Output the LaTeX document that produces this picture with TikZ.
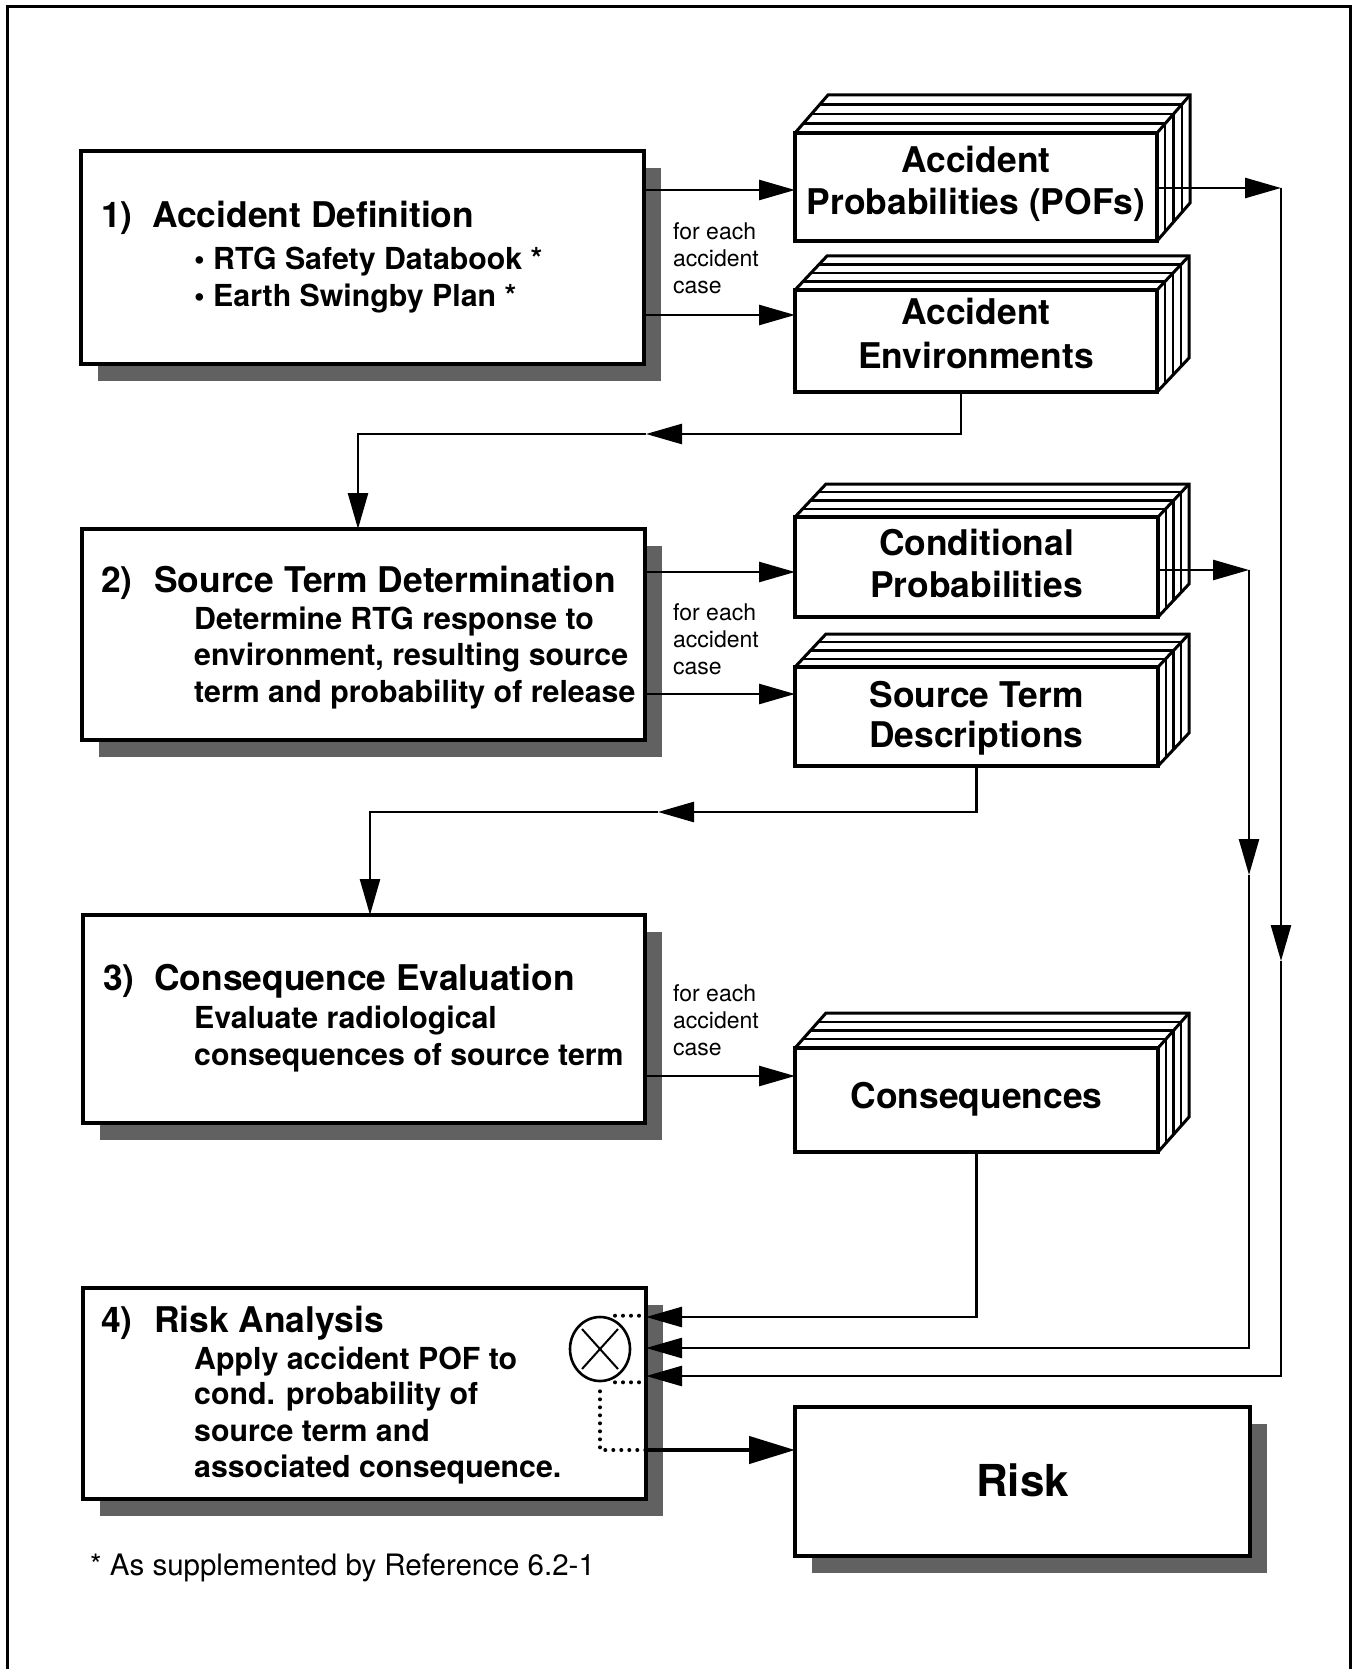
\documentclass[tikz,border=0pt]{standalone}
\usepackage{fontspec}
\setmainfont{TeX Gyre Heros}
\usetikzlibrary{arrows.meta,calc,shapes.geometric}
\pgfdeclarelayer{bg}
\pgfsetlayers{bg,main}

% a stack of cards drawn behind a front face node: #1 node, (#2,#3) depth
\newcommand\cardstack[3]{%
  \foreach \k in {0.25,0.5,0.75}{%
    \draw[cardline] ($(#1.north west)+\k*(#2,#3)$) -- ($(#1.north east)+\k*(#2,#3)$) -- ($(#1.south east)+\k*(#2,#3)$);
  }%
  \draw[cardedge] (#1.north west) -- ($(#1.north west)+(#2,#3)$) -- ($(#1.north east)+(#2,#3)$) -- ($(#1.south east)+(#2,#3)$) -- (#1.south east);
  \draw[cardedge] (#1.north east) -- ($(#1.north east)+(#2,#3)$);
}

\tikzset{
  procbox/.style={draw, fill=white, line width=3.2pt, rectangle, inner sep=0pt, outer sep=0pt},
  cardface/.style={draw, fill=white, line width=3.2pt, rectangle, inner sep=0pt, outer sep=0pt},
  cardline/.style={line width=2.4pt, line join=miter},
  cardedge/.style={line width=3pt, line join=miter},
  shadowfill/.style={fill=black!62},
  arr/.style={line width=2.6pt, -{Triangle[length=36pt,width=20pt]}},
  boxtitle/.style={font=\fontsize{35.4}{40}\selectfont\bfseries, anchor=base west, inner sep=0pt},
  boxbody/.style={font=\fontsize{30.3}{36}\selectfont\bfseries, anchor=base west, inner sep=0pt},
  cardtext/.style={font=\fontsize{35.4}{40}\selectfont\bfseries, anchor=base, inner sep=0pt},
  casenote/.style={font=\fontsize{23}{27}\selectfont, anchor=base west, inner sep=0pt},
  dotline/.style={line width=4pt, line cap=round, dash pattern=on 0pt off 8pt},
}

\begin{document}
\begin{tikzpicture}[x=1pt, y=-1pt]
\useasboundingbox (0,0) rectangle (1353,1669);
\clip (0,0) rectangle (1353,1669);

% outer frame (open at the bottom)
\draw[line width=3pt] (7,1700) -- (7,7) -- (1350,7) -- (1350,1700);

% process boxes
\node[procbox, minimum width=563pt, minimum height=213pt] (b1) at (362.5,257.5) {};
\node[procbox, minimum width=563pt, minimum height=211pt] (b2) at (363.5,634.5) {};
\node[procbox, minimum width=562pt, minimum height=208pt] (b3) at (364,1019) {};
\node[procbox, minimum width=563pt, minimum height=211pt] (b4) at (364.5,1393.5) {};
\node[procbox, minimum width=455pt, minimum height=149pt] (risk) at (1022.5,1481.5) {};

% card stacks
\node[cardface, minimum width=362pt, minimum height=108pt] (pof) at (976,187) {};
\node[cardface, minimum width=362pt, minimum height=102pt] (env) at (976,341) {};
\node[cardface, minimum width=363pt, minimum height=100pt] (cond) at (976.5,567) {};
\node[cardface, minimum width=363pt, minimum height=99pt] (std) at (976.5,716.5) {};
\node[cardface, minimum width=363pt, minimum height=104pt] (cons) at (976.5,1100) {};
\cardstack{pof}{33}{-38}
\cardstack{env}{32}{-34}
\cardstack{cond}{31}{-33}
\cardstack{std}{31}{-33}
\cardstack{cons}{31}{-35}

% drop shadows
\begin{pgfonlayer}{bg}
  \foreach \b in {b1,b2,b3,b4,risk}{
    \fill[shadowfill] ([shift={(17,17)}]\b.north west) rectangle ([shift={(17,17)}]\b.south east);
  }
\end{pgfonlayer}

% box texts
\node[boxtitle] (n1) at (101,228) {1)};
\node[boxtitle] (h1) at (152,228) {Accident Definition};
\node[boxbody] (l1a) at (194,270) {\textbullet\ RTG Safety Databook *};
\node[boxbody] (l1b) at (194,307) {\textbullet\ Earth Swingby Plan *};

\node[boxtitle] (n2) at (101,592) {2)};
\node[boxtitle] (h2) at (154,592) {Source Term Determination};
\node[boxbody] (l2a) at (194,629) {Determine RTG response to};
\node[boxbody] (l2b) at (194,665) {environment, resulting source};
\node[boxbody] (l2c) at (194,702) {term and probability of release};

\node[boxtitle] (n3) at (103,990) {3)};
\node[boxtitle] (h3) at (154,990) {Consequence Evaluation};
\node[boxbody] (l3a) at (194,1028) {Evaluate radiological};
\node[boxbody] (l3b) at (194,1065) {consequences of source term};

\node[boxtitle] (n4) at (101,1332) {4)};
\node[boxtitle] (h4) at (154,1332) {Risk Analysis};
\node[boxbody] (l4a) at (194,1369) {Apply accident POF to};
\node[boxbody] (l4b) at (194,1404) {cond. probability of};
\node[boxbody] (l4c) at (194,1441) {source term and};
\node[boxbody] (l4d) at (194,1477) {associated consequence.};

% card texts
\node[cardtext] (pofa) at (976,173) {Accident};
\node[cardtext] (pofb) at (976,215) {Probabilities (POFs)};
\node[cardtext] (enva) at (976,324) {Accident};
\node[cardtext] (envb) at (976,368) {Environments};
\node[cardtext] (conda) at (976.5,555) {Conditional};
\node[cardtext] (condb) at (976.5,597) {Probabilities};
\node[cardtext] (stda) at (976.5,707) {Source Term};
\node[cardtext] (stdb) at (976.5,747) {Descriptions};
\node[cardtext] (consa) at (976.5,1108) {Consequences};
\node[cardtext, font=\fontsize{44}{50}\selectfont\bfseries] (riska) at (1022.5,1496) {Risk};

% "for each accident case" notes
\node[casenote] (c1a) at (673,240) {for each};
\node[casenote] (c1b) at (673,267) {accident};
\node[casenote] (c1c) at (673,294) {case};
\node[casenote] (c2a) at (673,620) {for each};
\node[casenote] (c2b) at (673,647) {accident};
\node[casenote] (c2c) at (673,674) {case};
\node[casenote] (c3a) at (673,1001) {for each};
\node[casenote] (c3b) at (673,1028) {accident};
\node[casenote] (c3c) at (673,1055) {case};

% outputs of each step
\draw[arr] (b1.east |- 0,190) -- (pof.west |- 0,190);
\draw[arr] (b1.east |- 0,315) -- (env.west |- 0,315);
\draw[arr] (b2.east |- 0,572) -- (cond.west |- 0,572);
\draw[arr] (b2.east |- 0,694) -- (std.west |- 0,694);
\draw[arr] (b3.east |- 0,1076) -- (cons.west |- 0,1076);

% environments feed step 2
\coordinate (e1) at (961,434);
\coordinate (e2) at (646,434);
\coordinate (e3) at (358,434);
\draw[arr] (env.south -| e1) -- (e1) -- (e2);
\draw[arr] (e2) -- (e3) -- (b2.north -| e3);

% source terms feed step 3
\coordinate (s1) at (976.5,812);
\coordinate (s2) at (658,812);
\coordinate (s3) at (370,812);
\draw[arr] (std.south) -- (s1) -- (s2);
\draw[arr] (s2) -- (s3) -- (b3.north -| s3);

% probabilities of failure into step 4
\coordinate (p1) at (1281,188);
\coordinate (p2) at (1281,961);
\coordinate (p3) at (1281,1376);
\draw[arr] (pof.east |- p1) -- (p1);
\draw[arr] (p1) -- (p2);
\draw[arr] (p2) -- (p3) -- (b4.east |- p3);

% conditional probabilities into step 4
\coordinate (q1) at (1249,570);
\coordinate (q2) at (1249,875);
\coordinate (q3) at (1249,1348);
\draw[arr] (cond.east |- q1) -- (q1);
\draw[arr] (q1) -- (q2);
\draw[arr] (q2) -- (q3) -- (b4.east |- q3);

% consequences into step 4
\coordinate (k1) at (976.5,1317);
\draw[arr] (cons.south) -- (k1) -- (b4.east |- k1);

% product operator
\node[ellipse, draw, line width=2.6pt, minimum width=60pt, minimum height=64pt, inner sep=0pt] (mul) at (600,1349) {};
\draw[line width=2pt] ($(mul.center)+(-18,-20)$) -- ($(mul.center)+(18,20)$);
\draw[line width=2pt] ($(mul.center)+(-18,20)$) -- ($(mul.center)+(18,-20)$);
\draw[dotline] ([xshift=15pt]mul.north) -- (b4.east |- mul.north);
\draw[dotline] ([xshift=15pt]mul.south) -- (b4.east |- mul.south);
\draw[dotline] ([yshift=-9pt]mul.south) -- (mul.south |- 0,1450) -- (b4.east |- 0,1450);

% result
\draw[line width=4.5pt, -{Triangle[length=46pt,width=27pt]}] (b4.east |- 0,1450) -- (risk.west |- 0,1450);

% footnote
\node[anchor=base west, inner sep=0pt, font=\fontsize{29.5}{34}\selectfont] (fn) at (90,1575) {* As supplemented by Reference 6.2-1};
\end{tikzpicture}
\end{document}
